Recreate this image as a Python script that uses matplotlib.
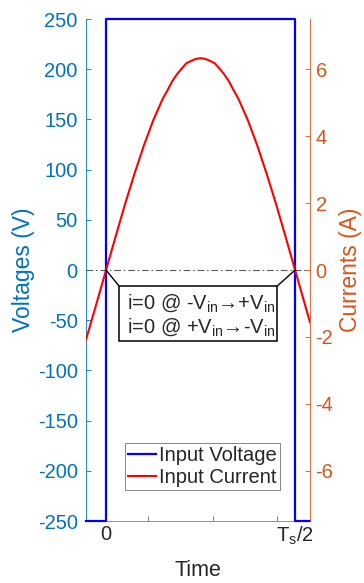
import matplotlib
matplotlib.use('Agg')
import matplotlib.pyplot as plt
from matplotlib.lines import Line2D
from matplotlib.patches import Rectangle

plt.rcParams['font.family'] = ['Liberation Sans', 'DejaVu Sans']
plt.rcParams['mathtext.fontset'] = 'custom'
plt.rcParams['mathtext.rm'] = 'Liberation Sans'
plt.rcParams['axes.unicode_minus'] = False

# time in units of Ts/2
t_volt = [-0.106, 0.0, 0.0, 1.0, 1.0, 1.079]
v_in = [-250, -250, 250, 250, -250, -250]

t_curr = [-0.106, -0.05, 0.0, 0.05, 0.1, 0.15, 0.2, 0.25, 0.3, 0.325, 0.35, 0.375, 0.4,
          0.425, 0.45, 0.475, 0.5, 0.525, 0.55, 0.575, 0.6, 0.625, 0.65, 0.675, 0.7,
          0.75, 0.8, 0.85, 0.9, 0.95, 1.0, 1.05, 1.079]
i_in = [-2.08, -0.99, 0.0, 0.99, 1.96, 2.87, 3.72, 4.48, 5.12, 5.37, 5.64, 5.85, 6.02,
        6.18, 6.25, 6.31, 6.33, 6.31, 6.25, 6.18, 6.02, 5.85, 5.64, 5.37, 5.12,
        4.48, 3.72, 2.87, 1.96, 0.99, 0.0, -0.99, -1.56]

volt_ticks = list(range(-250, 251, 50))
curr_ticks = [-6, -4, -2, 0, 2, 4, 6]
time_ticks = [0, 0.222, 0.566, 0.905, 1]
time_labels = ['0', '', '', '', 'T$_\\mathregular{s}$/2']

blue_ax = '#0072BD'
orange_ax = '#D95319'
dark = '#262626'
fs = 14.5

fig = plt.figure(figsize=(3.64, 5.83), dpi=100)
ax = fig.add_axes([0.2363, 0.1063, 0.6154, 0.861])
ax2 = ax.twinx()

ax.plot(t_volt, v_in, color='#0000FF', lw=1.6, clip_on=False, zorder=3)
ax.axhline(0, color='0.35', lw=0.8, ls=(0, (6, 2.5, 1.5, 2.5)), zorder=2)
ax2.plot(t_curr, i_in, color='#FF0000', lw=1.5, zorder=3)

ax.set_xlim(-0.106, 1.079)
ax.set_ylim(-250, 250)
ax2.set_ylim(-7.5, 7.5)

ax.set_yticks(volt_ticks)
ax2.set_yticks(curr_ticks)
ax.set_xticks(time_ticks)
ax.set_xticklabels(time_labels)

for s in ['top']:
    ax.spines[s].set_visible(False)
    ax2.spines[s].set_visible(False)
ax.spines['left'].set_color(blue_ax)
ax.spines['left'].set_linewidth(0.6)
ax2.spines['right'].set_color(orange_ax)
ax2.spines['right'].set_linewidth(0.6)
ax2.spines['left'].set_visible(False)
ax.spines['right'].set_visible(False)
ax.spines['bottom'].set_color('0.5')
ax.spines['bottom'].set_linewidth(0.6)
ax2.spines['bottom'].set_visible(False)

ax.tick_params(axis='y', direction='in', length=3.5, width=0.6, color=blue_ax,
               labelcolor=blue_ax, labelsize=fs, pad=6)
ax2.tick_params(axis='y', direction='in', length=3.5, width=0.6, color=orange_ax,
                labelcolor=orange_ax, labelsize=fs, pad=4)
ax.tick_params(axis='x', direction='in', length=3.5, width=0.6, color='0.4',
               labelcolor=dark, labelsize=fs, pad=3)

ax.set_ylabel('Voltages (V)', color=blue_ax, fontsize=16.5, labelpad=2)
ax2.set_ylabel('Currents (A)', color=orange_ax, fontsize=16.5, labelpad=4)
ax.set_xlabel('Time', color=dark, fontsize=15.5, labelpad=9)

# note box with leader lines to the zero crossings
box_x0, box_x1 = 0.069, 0.905
box_y0, box_y1 = -71, -16
ax2.add_patch(Rectangle((box_x0, box_y0 / 33.33), box_x1 - box_x0, (box_y1 - box_y0) / 33.33,
                        facecolor='white', edgecolor='black', lw=1.1, zorder=6))
ax2.plot([0, box_x0], [0, box_y1 / 33.33], color='black', lw=1.0, zorder=6)
ax2.plot([1, box_x1], [0, box_y1 / 33.33], color='black', lw=1.0, zorder=6)
ax2.text(box_x0 + 0.04, -1.0, 'i=0 @ -V$_\\mathregular{in}$→+V$_\\mathregular{in}$',
         fontsize=fs, color=dark, va='center', ha='left', zorder=7)
ax2.text(box_x0 + 0.04, -1.7, 'i=0 @ +V$_\\mathregular{in}$→-V$_\\mathregular{in}$',
         fontsize=fs, color=dark, va='center', ha='left', zorder=7)

handles = [Line2D([], [], color='#0000FF', lw=1.6), Line2D([], [], color='#FF0000', lw=1.5)]
leg = ax2.legend(handles, ['Input Voltage', 'Input Current'], loc='upper left',
                 bbox_to_anchor=(0.174, 0.155), borderaxespad=0, fontsize=fs,
                 handlelength=1.4, handletextpad=0.15, labelspacing=0.12,
                 borderpad=0.15, fancybox=False, framealpha=1, edgecolor='0.45')
leg.get_frame().set_linewidth(0.6)
leg.set_zorder(8)
for txt in leg.get_texts():
    txt.set_color(dark)

fig.savefig('out.png', dpi=100)
